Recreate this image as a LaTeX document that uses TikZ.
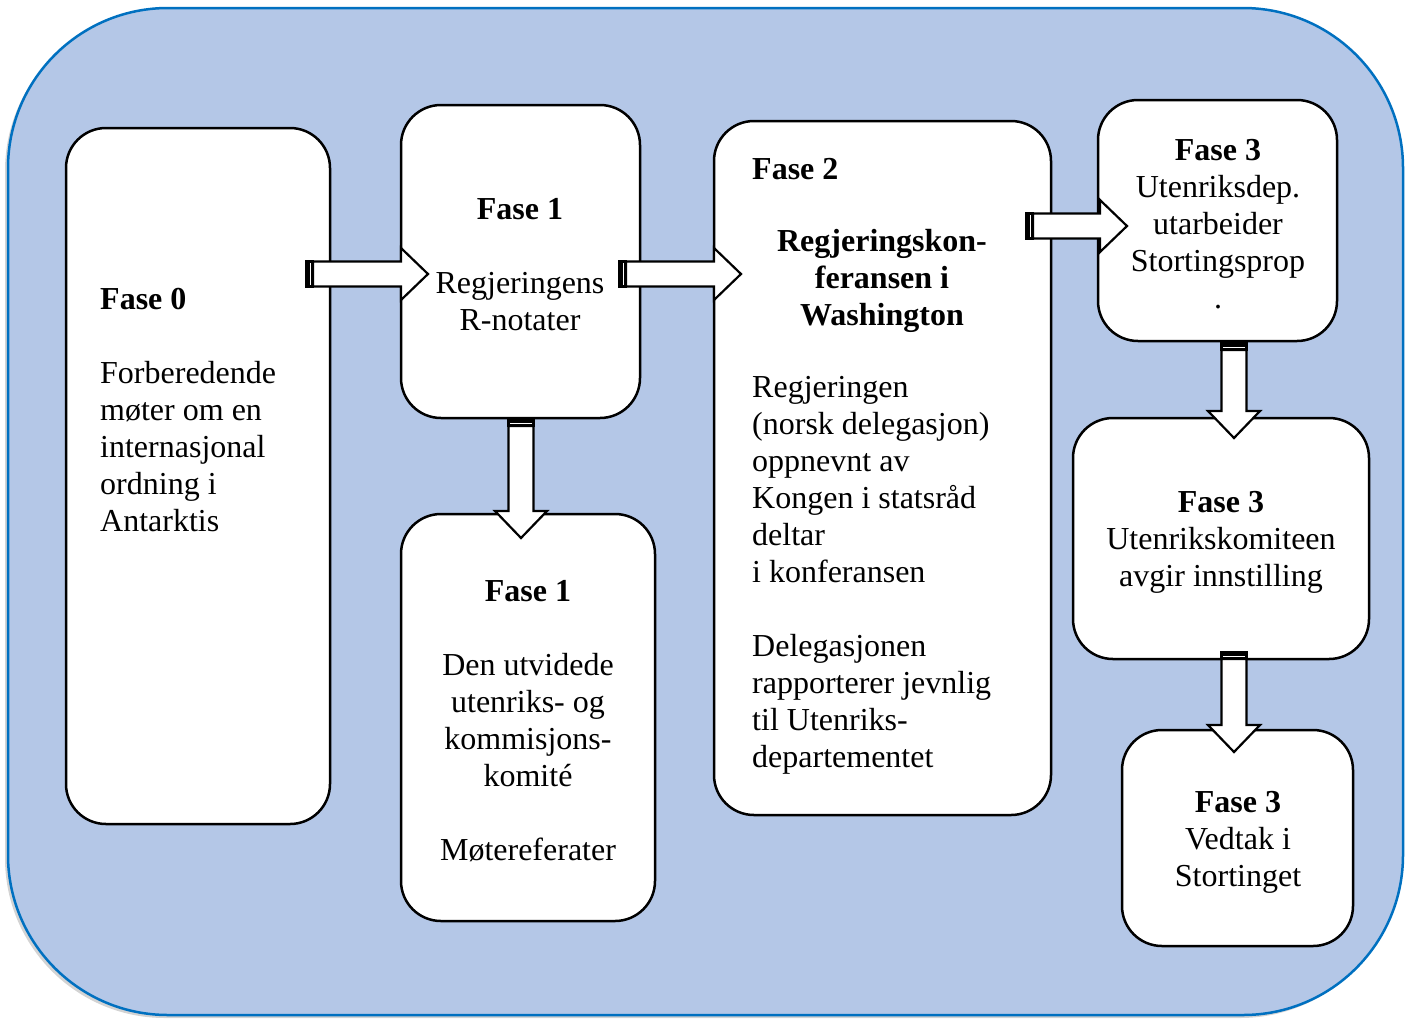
\documentclass[tikz,border=0pt]{standalone}
\usepackage{fontspec}
\setmainfont{Liberation Serif}
\usetikzlibrary{shadows}
\definecolor{bgfill}{HTML}{B4C7E7}
\definecolor{bgline}{HTML}{0070C0}
\begin{document}
\begin{tikzpicture}[x=1pt,y=-1pt,
  bg/.style={draw=bgline, line width=2.5pt, fill=bgfill, rounded corners=160pt, inner sep=0pt,
    drop shadow={shadow xshift=-3pt, shadow yshift=-3pt, opacity=0.35}},
  box/.style={draw=black, line width=2.5pt, fill=white, rounded corners=40pt, inner sep=0pt},
  txt/.style={inner sep=0pt, font=\fontsize{32}{37}\selectfont, align=center},
  pics/rblock/.style={code={
    \draw[line width=2.2pt, fill=white, line join=miter] (8,-12.5) -- (#1-27,-12.5) -- (#1-27,-26) -- (#1,0) -- (#1-27,26) -- (#1-27,12.5) -- (8,12.5) -- cycle;
    \fill[black] (0,-13.6) rectangle (8.5,13.6);
    \draw[white, line width=0.8pt] (5.5,-11) -- (5.5,11);
  }}]
\useasboundingbox (0,0) rectangle (1413,1018);
\node[bg, minimum width=1395pt, minimum height=1007pt] (bg) at (705.5,511.5) {};

\node[box, minimum width=264pt, minimum height=696pt] (f0) at (198,476) {};
\node[box, minimum width=239pt, minimum height=313pt] (f1a) at (520.5,261.5) {};
\node[box, minimum width=254pt, minimum height=407pt] (f1b) at (528,717.5) {};
\node[box, minimum width=337pt, minimum height=694pt] (f2) at (882.5,468) {};
\node[box, minimum width=239pt, minimum height=241pt] (f3a) at (1217.5,220.5) {};
\node[box, minimum width=296pt, minimum height=241pt] (f3b) at (1221,538.5) {};
\node[box, minimum width=231pt, minimum height=216pt] (f3c) at (1237.5,838) {};

\node[txt, align=left, anchor=west] (t0) at (100,410) {\textbf{Fase 0}\\[37pt]Forberedende\\møter om en\\internasjonal\\ordning i\\Antarktis};
\node[txt] (t1a) at (520,265) {\textbf{Fase 1}\\[37pt]Regjeringens\\R-notater};
\node[txt] (t1b) at (528,721) {\textbf{Fase 1}\\[37pt]Den utvidede\\utenriks- og\\kommisjons-\\komité\\[37pt]Møtereferater};
\node[txt, anchor=west] (t2a) at (752,169) {\textbf{Fase 2}};
\node[txt, font=\fontsize{32}{37}\selectfont\bfseries] (t2b) at (882,281) {Regjeringskon-\\feransen i\\Washington};
\node[txt, align=left, anchor=west] (t2c) at (752,575) {Regjeringen\\(norsk delegasjon)\\oppnevnt av\\Kongen i statsråd\\deltar\\i konferansen\\[37pt]Delegasjonen\\rapporterer jevnlig\\til Utenriks-\\departementet};
\node[txt] (t3a) at (1218,224) {\textbf{Fase 3}\\Utenriksdep.\\utarbeider\\Stortingsprop\\.};
\node[txt] (t3b) at (1221,542) {\textbf{Fase 3}\\Utenrikskomiteen\\avgir innstilling};
\node[txt] (t3c) at (1238,842) {\textbf{Fase 3}\\Vedtak i\\Stortinget};

\pic at (305,274) {rblock=123};
\pic at (618,274) {rblock=123};
\pic at (1025,226) {rblock=102};
\pic[rotate=-90] at (521,418) {rblock=120};
\pic[rotate=-90] at (1234,342) {rblock=96};
\pic[rotate=-90] at (1234,651) {rblock=101};
\end{tikzpicture}
\end{document}
